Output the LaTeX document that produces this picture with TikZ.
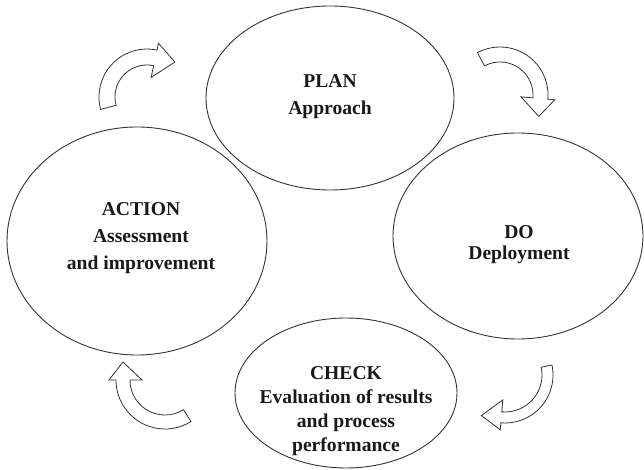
\documentclass[tikz,border=0pt]{standalone}
\usepackage{fontspec}
\setmainfont{Liberation Serif}
\usetikzlibrary{calc,shapes.geometric}

% Curved block arrow running clockwise around a centre.
% #1,#2 centre; #3 start angle; #4 end angle; #5 inner radius; #6 outer radius; #7 head length
\newcommand\cyclearrow[7]{%
  \draw[blockarrow]
    ($(#1,#2)+(#3:#6pt)$) arc[start angle=#3, end angle=#4, radius=#6pt]
    -- ($(#1,#2)+(#4:#6pt+7pt)$)
    -- ($(#1,#2)+(#4:{(#5pt+#6pt)/2})+({#4-90}:#7pt)$)
    -- ($(#1,#2)+(#4:#5pt-12pt)$)
    -- ($(#1,#2)+(#4:#5pt)$) arc[start angle=#4, end angle=#3, radius=#5pt]
    -- cycle;}

\tikzset{
  phase/.style={ellipse, draw=black!80, line width=0.9pt, inner sep=0pt},
  phasetext/.style={align=center, font=\fontsize{19.6}{#1}\selectfont\bfseries, text=black!90},
  blockarrow/.style={draw=black!80, line width=0.8pt, fill=white, line join=miter}
}

\begin{document}
\begin{tikzpicture}[x=1pt, y=1pt]
  \useasboundingbox (0,0) rectangle (644,470);

  % the four phases of the cycle
  \node[phase, minimum width=248pt, minimum height=184pt] (plan)   at (330,372) {};
  \node[phase, minimum width=250pt, minimum height=206pt] (do)     at (518,234) {};
  \node[phase, minimum width=222pt, minimum height=150pt] (check)  at (346,77)  {};
  \node[phase, minimum width=260pt, minimum height=228pt] (action) at (137,229) {};

  % phase titles
  \node[phasetext=27] (plantext)   at (330,373) {PLAN\\Approach};
  \node[phasetext=21] (dotext)     at (519,225) {DO\\Deployment};
  \node[phasetext=24] (checktext)  at (346,59)  {CHECK\\Evaluation of results\\and process\\performance};
  \node[phasetext=27] (actiontext) at (141,232) {ACTION\\Assessment\\and improvement};

  % curved arrows leading from one phase to the next
  \cyclearrow{147}{373}{195}{78}{32}{48}{20}
  \cyclearrow{500}{375}{118}{-5}{33}{48}{18}
  \cyclearrow{505}{95}{12}{-95}{37}{48}{20}
  \cyclearrow{165}{90}{-58}{-180}{35}{49}{18}
\end{tikzpicture}
\end{document}
